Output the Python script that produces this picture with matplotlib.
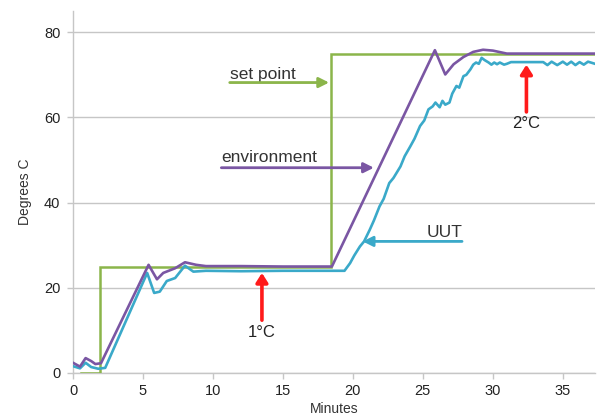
import matplotlib
matplotlib.use("Agg")
import matplotlib.pyplot as plt

# ---- data ----
sp_t = [0.6, 1.9, 1.9, 18.4, 18.4, 37.3]
sp_v = [0, 0, 25, 25, 75, 75]

env_t = [0, 0.5, 0.9, 1.3, 1.6, 2.0, 5.4, 6.0, 6.45, 7.3, 8.0, 8.8, 9.5,
         12.0, 15.0, 18.5, 25.86, 26.6, 27.2, 27.9, 28.6, 29.3, 30.0, 31.0, 37.3]
env_v = [2.4, 1.5, 3.5, 2.8, 2.1, 2.3, 25.4, 22.0, 23.5, 24.6, 26.0, 25.4, 25.1,
         25.1, 25.0, 25.0, 75.8, 70.1, 72.5, 74.2, 75.4, 75.9, 75.7, 75.0, 75.0]

uut_t = [0, 0.5, 0.9, 1.3, 1.8, 2.3, 5.3, 5.8, 6.2, 6.7, 7.3, 8.0, 8.6, 9.5,
         12.0, 15.0, 19.4, 19.8, 20.1, 20.5, 20.8, 21.2, 21.5, 21.9, 22.2,
         22.6, 22.9, 23.4, 23.7, 24.1, 24.4, 24.8, 25.1, 25.4, 25.7, 25.9,
         26.2, 26.4, 26.6, 26.9, 27.1, 27.4, 27.6, 27.9, 28.1, 28.4, 28.6,
         28.8, 29.0, 29.2, 29.4, 29.7, 29.9, 30.1, 30.3, 30.5, 30.8, 31.0,
         31.3, 33.6, 33.9, 34.2, 34.6, 35.0, 35.3, 35.6, 35.9, 36.2, 36.5,
         36.8, 37.3]
uut_v = [1.6, 1.1, 2.4, 1.4, 1.0, 1.2, 23.5, 18.8, 19.1, 21.6, 22.3, 25.2,
         23.8, 24.0, 23.9, 24.0, 24.0, 25.8, 27.6, 29.7, 30.9, 33.6, 35.8,
         39.1, 40.9, 44.6, 45.8, 48.5, 50.9, 53.2, 55.0, 58.0, 59.3, 61.9,
         62.6, 63.5, 62.4, 63.9, 63.0, 63.5, 65.6, 67.4, 67.0, 69.7, 70.0,
         71.3, 72.4, 72.9, 72.6, 74.0, 73.5, 72.9, 72.4, 72.9, 72.5, 72.9,
         72.4, 72.6, 73.0, 73.0, 72.3, 73.1, 72.3, 73.1, 72.4, 73.1, 72.3,
         73.0, 72.4, 73.1, 72.6]

x_ticks = [0, 5, 10, 15, 20, 25, 30, 35]
y_ticks = [0, 20, 40, 60, 80]

GREEN = "#8bb54a"
PURPLE = "#7a56a3"
CYAN = "#3aa9c9"
RED = "#ff1a1a"
GRID = "#c6c6c6"

plt.rcParams['font.family'] = ['Liberation Sans', 'DejaVu Sans']

fig = plt.figure(figsize=(5.97, 4.17), dpi=100)
ax = fig.add_axes([73 / 597, 44 / 417, 522 / 597, 362 / 417])

ax.plot(sp_t, sp_v, color=GREEN, lw=1.8, solid_joinstyle='miter', zorder=3)
ax.plot(uut_t, uut_v, color=CYAN, lw=1.9, zorder=4)
ax.plot(env_t, env_v, color=PURPLE, lw=1.9, zorder=5)

ax.set_xlim(0, 37.3)
ax.set_ylim(0, 85)
ax.set_xticks(x_ticks)
ax.set_yticks(y_ticks)
ax.grid(axis='y', color=GRID, lw=1.0)
ax.set_axisbelow(True)
for s in ['top', 'right']:
    ax.spines[s].set_visible(False)
for s in ['left', 'bottom']:
    ax.spines[s].set_color(GRID)
    ax.spines[s].set_linewidth(1.0)
ax.tick_params(axis='both', colors=GRID, labelcolor='#222222', labelsize=10.5,
               length=4, width=1.0)
ax.tick_params(axis='y', pad=5)
ax.tick_params(axis='x', pad=4)

ax.set_xlabel('Minutes', fontsize=10, color='#333333', labelpad=2.5)
ax.set_ylabel('Degrees C', fontsize=10, color='#333333', labelpad=9)

# annotations
def arrow(tip, base, color, lw, hl, hw):
    ax.annotate('', xy=tip, xytext=base,
                arrowprops=dict(arrowstyle=f'-|>,head_length={hl},head_width={hw}',
                                color=color, lw=lw, shrinkA=0, shrinkB=0),
                zorder=6)

ax.text(11.2, 69.0, 'set point', fontsize=12.5, color='#333333', va='baseline')
arrow((18.3, 68.2), (11.2, 68.2), GREEN, 2.0, 0.6, 0.3)

ax.text(10.6, 49.5, 'environment', fontsize=12.5, color='#333333', va='baseline')
arrow((21.5, 48.2), (10.6, 48.2), PURPLE, 2.0, 0.6, 0.3)

ax.text(25.3, 31.9, 'UUT', fontsize=12.5, color='#333333', va='baseline')
arrow((20.7, 30.9), (27.8, 30.9), CYAN, 2.0, 0.6, 0.3)

arrow((13.5, 23.5), (13.5, 12.4), RED, 2.6, 0.55, 0.35)
ax.text(13.5, 11.3, '1°C', fontsize=12, color='#222222', ha='center', va='top')

arrow((32.4, 72.4), (32.4, 61.3), RED, 2.6, 0.55, 0.35)
ax.text(32.4, 60.3, '2°C', fontsize=12, color='#222222', ha='center', va='top')

fig.savefig('out.png', dpi=100)
